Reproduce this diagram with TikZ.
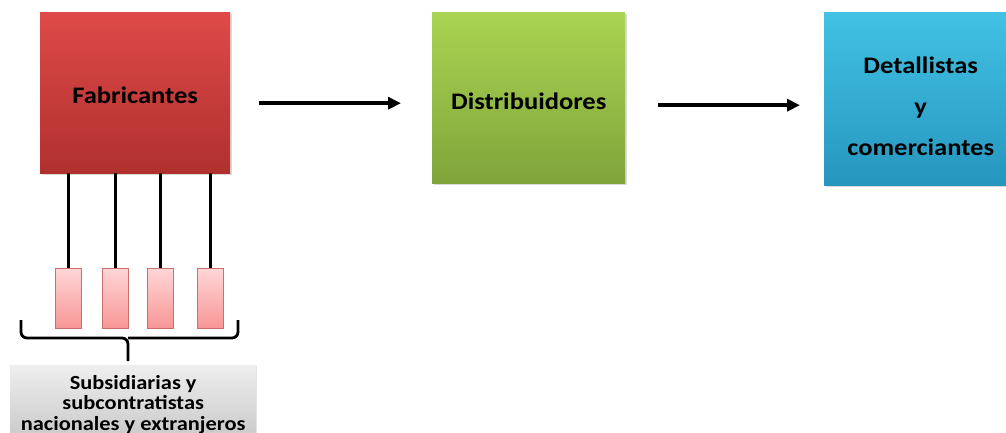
\documentclass[tikz,border=0pt]{standalone}
\usepackage{fontspec}
\setmainfont{Carlito}[FakeStretch=1.12]
\usetikzlibrary{shadows,arrows.meta,calc}
\definecolor{redtop}{RGB}{222,74,72}
\definecolor{redbot}{RGB}{176,48,46}
\definecolor{grntop}{RGB}{170,212,82}
\definecolor{grnbot}{RGB}{128,164,58}
\definecolor{blutop}{RGB}{66,194,228}
\definecolor{blubot}{RGB}{38,150,190}
\definecolor{pinktop}{RGB}{255,214,214}
\definecolor{pinkbot}{RGB}{248,150,150}
\definecolor{pinkedge}{RGB}{205,110,110}
\definecolor{graytop}{RGB}{238,238,238}
\definecolor{graybot}{RGB}{200,200,200}
\tikzset{
  bigbox/.style={rectangle, anchor=north west, inner sep=0pt, align=center,
    font=\fontsize{23.7}{28}\selectfont\bfseries,
    drop shadow={opacity=0.3, shadow xshift=2pt, shadow yshift=-2pt}},
  smallbox/.style={rectangle, inner sep=0pt, minimum width=26pt, minimum height=60pt,
    draw=pinkedge, line width=0.6pt, top color=pinktop, bottom color=pinkbot,
    drop shadow={opacity=0.2, shadow xshift=1pt, shadow yshift=-1pt}},
  flow/.style={line width=3.5pt, -{Triangle[length=13pt,width=12pt]}},
  stem/.style={line width=3pt},
  bracepart/.style={line width=2.8pt, rounded corners=6pt}
}
\begin{document}
\begin{tikzpicture}[x=1pt,y=-1pt]
\useasboundingbox (0,0) rectangle (1006,432);
\clip (0,0) rectangle (1006,432);
% main boxes
\node[bigbox, minimum width=190pt, minimum height=161pt, top color=redtop, bottom color=redbot] (fab) at (40,12)
  {\smash{\raisebox{-10.8pt}{Fabricantes}}};
\node[bigbox, minimum width=193pt, minimum height=171pt, top color=grntop, bottom color=grnbot] (dist) at (432,12)
  {\smash{\raisebox{-11.5pt}{Distribuidores}}};
\node[bigbox, minimum width=193pt, minimum height=173pt, top color=blutop, bottom color=blubot,
  font=\fontsize{23.7}{41}\selectfont\bfseries] (det) at (824,12)
  {\smash{\raisebox{25.2pt}{\begin{tabular}[t]{@{}c@{}}Detallistas\\y\\comerciantes\end{tabular}}}};
% arrows
\draw[flow] ($(fab.east)+(29,10.5)$) -- ($(dist.west)+(-31,5.5)$);
\draw[flow] ($(dist.east)+(33,7.5)$) -- ($(det.west |- dist.east)+(-24,7.5)$);
% small boxes
\node[smallbox] (s1) at (68,298) {};
\node[smallbox] (s2) at (115,298) {};
\node[smallbox] (s3) at (160,298) {};
\node[smallbox] (s4) at (210,298) {};
\foreach \s in {s1,s2,s3,s4}{
  \draw[stem] (\s.north) -- (fab.south -| \s.north);
}
% brace
\coordinate (bl) at (21,320);
\coordinate (br) at (238,320);
\coordinate (bm) at (128,338);
\coordinate (bt) at (128,361);
\draw[bracepart] (bl) -- (bl |- bm) -- (bm) -- (bt);
\draw[bracepart] (br) -- (br |- bm) -- (bm);
% gray box
\node[rectangle, anchor=north west, inner sep=0pt, minimum width=246pt, minimum height=76pt,
  top color=graytop, bottom color=graybot, align=center,
  font=\fontsize{20}{20.5}\selectfont\bfseries,
  drop shadow={opacity=0.2, shadow xshift=1pt, shadow yshift=-1pt}] (gb) at (10,365)
  {\smash{\raisebox{14.2pt}{\begin{tabular}[t]{@{}c@{}}Subsidiarias y\\subcontratistas\\nacionales y extranjeros\end{tabular}}}};
\end{tikzpicture}
\end{document}
